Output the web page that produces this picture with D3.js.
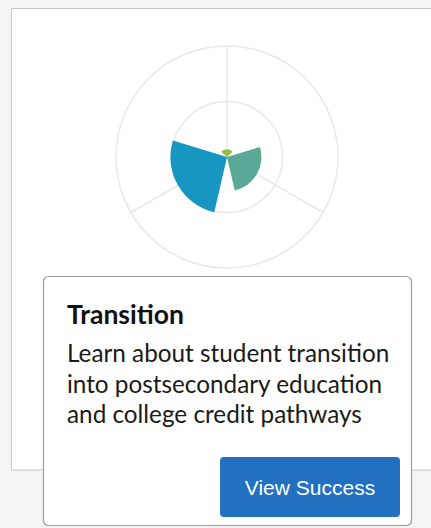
<!DOCTYPE html>
<html>
<head>
<meta charset="utf-8">
<script src="https://cdn.jsdelivr.net/npm/d3@7"></script>
<style>
  html, body { margin: 0; padding: 0; background: #f4f4f4; }
  svg { display: block; }
</style>
</head>
<body>
<svg id="chart" width="431" height="528"></svg>
<script>
// ---- data ----
const categories = ["Readiness", "Transition", "Success"];
const values = [7, 31, 51];
const colors = ["#9bbb3c", "#5aa996", "#1796c1"];
const radialTicks = [50, 100];
const title = "Transition";
const bodyLines = [
  "Learn about student transition",
  "into postsecondary education",
  "and college credit pathways"
];
const buttonLabel = "View Success";

// ---- drawing ----
const svg = d3.select("#chart");
svg.append("rect").attr("width", 431).attr("height", 528).attr("fill", "#f4f4f4");

// card
svg.append("rect")
  .attr("x", 11.5).attr("y", 8.5)
  .attr("width", 440).attr("height", 461.5)
  .attr("fill", "#fff").attr("stroke", "#c6c6c6").attr("stroke-width", 1);

const cx = 227, cy = 157, R = 111;
const r = d3.scaleLinear().domain([0, 100]).range([0, R]);
const step = 2 * Math.PI / categories.length;
const half = 47 * Math.PI / 180;

const g = svg.append("g").attr("transform", `translate(${cx},${cy})`);

// grid circles
g.selectAll("circle.grid").data(radialTicks).join("circle")
  .attr("class", "grid")
  .attr("r", d => r(d))
  .attr("fill", "none").attr("stroke", "#e8e8e8").attr("stroke-width", 1.5);

// radial lines
g.selectAll("line.spoke").data(categories).join("line")
  .attr("class", "spoke")
  .attr("x1", 0).attr("y1", 0)
  .attr("x2", (d, i) => Math.sin(i * step) * r(100))
  .attr("y2", (d, i) => -Math.cos(i * step) * r(100))
  .attr("stroke", "#e8e8e8").attr("stroke-width", 1.5);

// slices
const arc = d3.arc()
  .innerRadius(0)
  .outerRadius((d) => r(d.v))
  .startAngle(d => d.i * step - half)
  .endAngle(d => d.i * step + half);

g.selectAll("path.slice")
  .data(values.map((v, i) => ({ v, i, c: categories[i] })))
  .join("path")
  .attr("class", "slice")
  .attr("d", arc)
  .attr("fill", d => colors[d.i]);

// tooltip box
const tip = svg.append("g");
tip.append("rect")
  .attr("x", 43.5).attr("y", 276.5)
  .attr("width", 368).attr("height", 249)
  .attr("rx", 5)
  .attr("fill", "#fff").attr("stroke", "#9c9c9c").attr("stroke-width", 1.2);

tip.append("text")
  .attr("x", 67).attr("y", 324)
  .attr("font-family", "Lato, 'Open Sans', sans-serif")
  .attr("font-weight", 700)
  .attr("font-size", 26.5)
  .attr("fill", "#111")
  .text(title);

tip.selectAll("text.body").data(bodyLines).join("text")
  .attr("class", "body")
  .attr("x", 67)
  .attr("y", (d, i) => 362 + i * 30.5)
  .attr("font-family", "Lato, 'Open Sans', sans-serif")
  .attr("font-size", 24.3)
  .attr("fill", "#1a1a1a")
  .text(d => d);

// button
tip.append("rect")
  .attr("x", 220).attr("y", 457)
  .attr("width", 180).attr("height", 60)
  .attr("rx", 4)
  .attr("fill", "#2271c0");
tip.append("text")
  .attr("x", 310).attr("y", 494.5)
  .attr("text-anchor", "middle")
  .attr("font-family", "'Liberation Sans', Arial, sans-serif")
  .attr("font-size", 21)
  .attr("fill", "#fff")
  .text(buttonLabel);
</script>
</body>
</html>
